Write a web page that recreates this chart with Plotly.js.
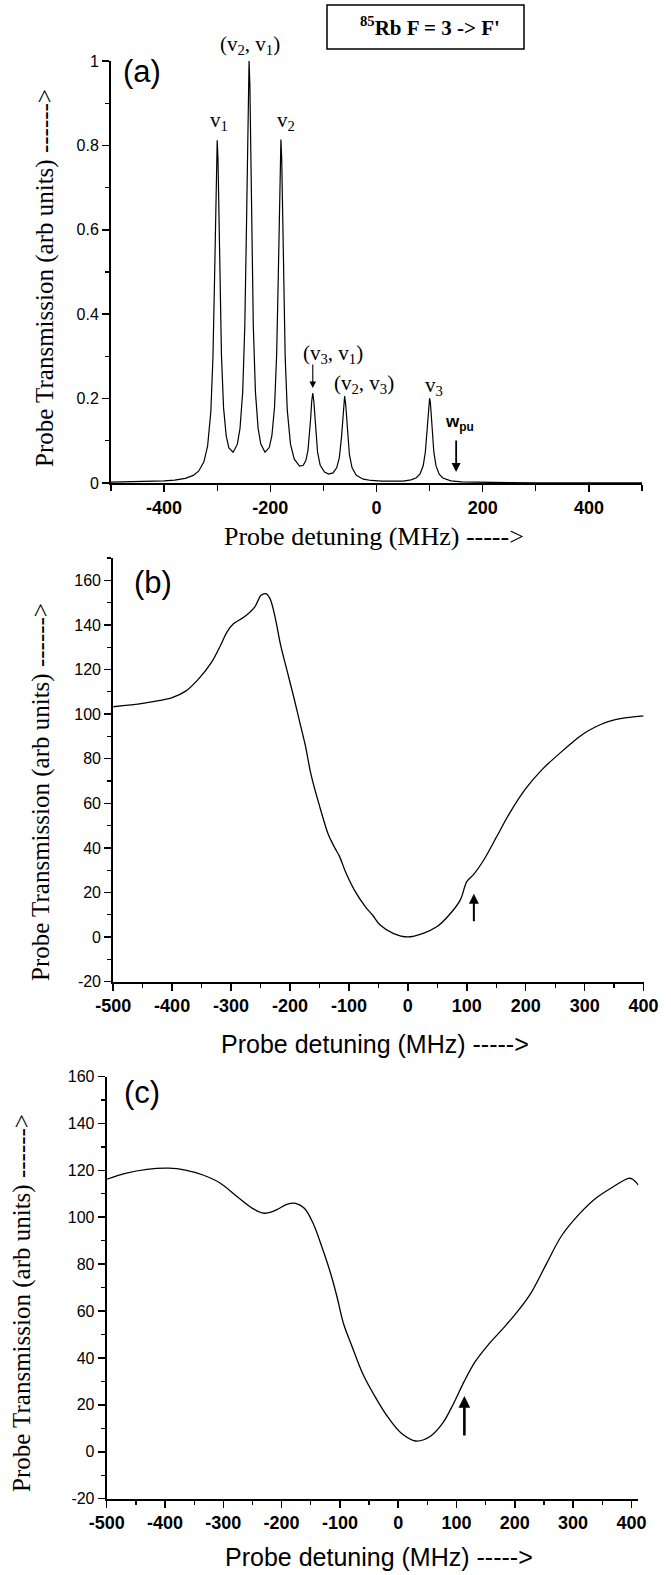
<!DOCTYPE html>
<html>
<head>
<meta charset="utf-8">
<script src="https://cdn.plot.ly/plotly-3.0.1.min.js"></script>
<style>html,body{margin:0;padding:0;background:#fff;}#chart{width:671px;height:1575px;}</style>
</head>
<body>
<div id="chart"></div>
<script>
// Panel (a): calculated probe transmission
const detuningA = [-500,-450,-420,-400,-380,-360,-345,-335,-325,-318,-312,-308,-305,-303,-301.5,-300,-298.5,-297,-295,-292,-288,-283,-278,-270,-262,-257,-252,-248,-245,-243,-241.5,-240,-238.5,-237,-235,-232,-228,-223,-218,-210,-202,-197,-192,-188,-185,-183,-181.5,-180,-178.5,-177,-175,-172,-168,-162,-155,-145,-138,-133,-129,-126,-124,-122,-120,-118,-116,-114,-111,-106,-98,-90,-82,-75,-70,-66,-64,-62,-60,-58,-56,-54,-51,-46,-38,-25,-10,10,30,50,65,75,82,88,92,95,97,98.5,100,101.5,103,105,108,112,118,125,140,160,200,250,300,400,500];
const transmissionA = [0.002,0.003,0.004,0.005,0.007,0.011,0.018,0.028,0.050,0.088,0.169,0.298,0.482,0.651,0.765,0.812,0.766,0.653,0.486,0.303,0.178,0.111,0.083,0.073,0.092,0.130,0.215,0.372,0.598,0.805,0.944,1.0,0.944,0.805,0.598,0.372,0.216,0.130,0.093,0.073,0.084,0.112,0.180,0.305,0.488,0.655,0.768,0.814,0.767,0.654,0.485,0.300,0.172,0.092,0.057,0.040,0.042,0.053,0.078,0.115,0.153,0.194,0.213,0.193,0.151,0.112,0.073,0.042,0.026,0.021,0.024,0.036,0.060,0.107,0.145,0.186,0.206,0.186,0.144,0.105,0.067,0.036,0.018,0.009,0.006,0.0045,0.0042,0.0046,0.0075,0.0125,0.0215,0.0415,0.0735,0.1195,0.1615,0.19,0.201,0.19,0.161,0.119,0.073,0.041,0.021,0.012,0.005,0.0026,0.0012,0.0007,0.0005,0.0003,0.0002];

// Panel (b)
const detuningB = [-500,-450,-425,-400,-377,-355,-333,-318,-307,-296,-278,-260,-249,-241,-234,-226,-216,-205,-194,-184,-174,-164,-149,-135,-124,-116,-105,-91,-72,-60,-47,-25,0,26,49,70,89,100,111,129,151,173,199,228,258,280,298,318,335,352,371,400];
const transmissionB = [103.3,104.8,105.9,107.4,110.3,115.8,123.3,130.8,136.8,140.5,143.5,148,153.3,154,151.8,144.3,131,119.5,108,97,86,72.5,58,46,40,36.2,28.7,21.2,13.6,9.9,5.4,1.7,0.1,1.7,4.6,9.9,16.7,24.9,27.9,34.7,45.2,55.7,66.2,75.2,82.5,87.5,91.2,94.2,96.2,97.5,98.4,99.2];

// Panel (c)
const detuningC = [-500,-468,-431,-394,-365,-335,-305,-276,-250,-230,-209,-190,-176,-161,-146,-131,-116,-105,-94,-79,-61,-38,-16,6,30,54,76,95,113,132,154,180,202,226,254,280,310,339,369,395,402,412];
const transmissionC = [116.2,118.7,120.4,120.9,120.1,118,114.5,108.7,103.8,101.7,103.1,105.6,105.9,103.8,97.4,87.4,76.1,66.1,54.8,44.8,33.4,22.8,14.2,7.8,4.6,6.4,12.1,20.6,29.9,38.4,45.5,52.6,59,67,80,92,101.2,108.1,113,116.6,116.2,113.7];

// Tick labels
const xTicksA = [-400,-200,0,200,400];
const xLabelsA = ['-400','-200','0','200','400'];
const xTicksBC = [-500,-400,-300,-200,-100,0,100,200,300,400];
const xLabelsBC = ['-500','-400','-300','-200','-100','0','100','200','300','400'];
const yTicksBC = [-20,0,20,40,60,80,100,120,140,160];
const yLabelsBC = ['-20','0','20','40','60','80','100','120','140','160'];

// Marker positions (MHz)
const pumpA = 150, arrowB = 112, arrowC = 113.5, crossV3V1 = -120;

const W = 671, H = 1575;
const px = v => v / W;
const py = v => 1 - v / H;
const SANS = 'Liberation Sans, Arial, sans-serif';
const SERIF = 'Liberation Serif, Times New Roman, serif';

function xax(dom, range, tv, tt, minor, mlen, anchor) {
  return {domain: dom, range: range, tickmode: 'array', tickvals: tv, ticktext: tt, anchor: anchor,
    showline: true, linecolor: '#000', linewidth: 2, ticks: 'outside', ticklen: 7, tickwidth: 1.5, tickcolor: '#000',
    showgrid: false, zeroline: false,
    minor: {ticks: 'outside', tickmode: 'linear', tick0: -500, dtick: minor, ticklen: mlen, tickwidth: 1.3, tickcolor: '#000', showgrid: false},
    tickfont: {family: SANS, size: 18, color: '#000', weight: 'bold'}};
}
function yax(dom, range, tv, tt, minor, anchor) {
  const o = {domain: dom, range: range, anchor: anchor,
    showline: true, linecolor: '#000', linewidth: 2, ticks: 'outside', ticklen: 7, tickwidth: 1.5, tickcolor: '#000',
    showgrid: false, zeroline: false,
    minor: {ticks: 'outside', tickmode: 'linear', tick0: 0, dtick: minor, ticklen: 4, tickwidth: 1.3, tickcolor: '#000', showgrid: false},
    tickfont: {family: SANS, size: 16, color: '#000'}};
  if (Array.isArray(tv)) { o.tickmode = 'array'; o.tickvals = tv; o.ticktext = tt; }
  else { o.dtick = tv; }
  return o;
}

const traces = [
  {x: detuningA, y: transmissionA, xaxis: 'x', yaxis: 'y', mode: 'lines', line: {color: '#000', width: 1.2}, hoverinfo: 'skip'},
  {x: detuningB, y: transmissionB, xaxis: 'x2', yaxis: 'y2', mode: 'lines', line: {color: '#000', width: 1.3, shape: 'spline', smoothing: 1}, hoverinfo: 'skip'},
  {x: detuningC, y: transmissionC, xaxis: 'x3', yaxis: 'y3', mode: 'lines', line: {color: '#000', width: 1.3, shape: 'spline', smoothing: 1}, hoverinfo: 'skip'}
];

function lab(text, x, y, font, extra) {
  return Object.assign({text: text, xref: 'paper', yref: 'paper', x: px(x), y: py(y), xanchor: 'center', yanchor: 'middle', showarrow: false, font: font}, extra || {});
}
const serif21 = {family: SERIF, size: 21, color: '#000'};
const ytitle = 'Probe Transmission (arb units) ------>';

const annotations = [
  lab(ytitle, 45, 278, {family: SERIF, size: 25, color: '#000'}, {textangle: -90}),
  lab(ytitle, 41, 792, {family: SERIF, size: 25, color: '#000'}, {textangle: -90}),
  lab(ytitle, 22, 1303, {family: SERIF, size: 25, color: '#000'}, {textangle: -90}),
  lab('Probe detuning (MHz) ----->', 374, 537, {family: SERIF, size: 26, color: '#000'}),
  lab('Probe detuning (MHz) ----->', 375, 1044, {family: SANS, size: 25, color: '#000'}),
  lab('Probe detuning (MHz) ----->', 379, 1557, {family: SANS, size: 25, color: '#000'}),
  lab('(a)', 142, 72, {family: SANS, size: 31, color: '#000'}),
  lab('(b)', 153, 582, {family: SANS, size: 31, color: '#000'}),
  lab('(c)', 142, 1092, {family: SANS, size: 31, color: '#000'}),
  lab("<b><sup>85</sup>Rb F = 3 -> F'</b>", 430, 27, {family: SERIF, size: 21, color: '#000'}),
  lab('(v<sub>2</sub>, v<sub>1</sub>)', 250, 45, serif21),
  lab('v<sub>1</sub>', 219, 121, serif21),
  lab('v<sub>2</sub>', 286, 121, serif21),
  lab('(v<sub>3</sub>, v<sub>1</sub>)', 333, 354, serif21),
  lab('(v<sub>2</sub>, v<sub>3</sub>)', 364, 384, serif21),
  lab('v<sub>3</sub>', 434, 386, serif21),
  lab('<b>w<sub>pu</sub></b>', 459, 423, {family: SANS, size: 17, color: '#000'}),
  {xref: 'x', yref: 'y', x: crossV3V1, y: 0.225, ax: 0, ay: -25, text: '', showarrow: true, arrowhead: 2, arrowsize: 1.2, arrowwidth: 1.1, arrowcolor: '#000'},
  {xref: 'x', yref: 'y', x: pumpA, y: 0.026, ax: 0, ay: -33, text: '', showarrow: true, arrowhead: 2, arrowsize: 1, arrowwidth: 1.8, arrowcolor: '#000'},
  {xref: 'x2', yref: 'y2', x: arrowB, y: 19.4, ax: 0, ay: 29, text: '', showarrow: true, arrowhead: 2, arrowsize: 1, arrowwidth: 2, arrowcolor: '#000'},
  {xref: 'x3', yref: 'y3', x: arrowC, y: 23.8, ax: 0, ay: 41, text: '', showarrow: true, arrowhead: 2, arrowsize: 0.9, arrowwidth: 2.6, arrowcolor: '#000'}
];

const layout = {
  width: W, height: H, margin: {l: 0, r: 0, t: 0, b: 0},
  paper_bgcolor: '#fff', plot_bgcolor: '#fff', showlegend: false,
  xaxis: xax([px(111), px(642)], [-500, 500], xTicksA, xLabelsA, 100, 6, 'y'),
  yaxis: yax([py(483), py(61)], [0, 1], 0.2, null, 0.1, 'x'),
  xaxis2: xax([px(113.2), px(643.6)], [-500, 400], xTicksBC, xLabelsBC, 50, 4, 'y2'),
  yaxis2: yax([py(981.7), py(558)], [-20, 170], yTicksBC, yLabelsBC, 10, 'x2'),
  xaxis3: xax([px(106.7), px(638.4)], [-500, 412], xTicksBC, xLabelsBC, 50, 4, 'y3'),
  yaxis3: yax([py(1498.7), py(1076.5)], [-20, 160], yTicksBC, yLabelsBC, 10, 'x3'),
  annotations: annotations,
  shapes: [{type: 'rect', xref: 'paper', yref: 'paper', x0: px(327), x1: px(524), y0: py(49), y1: py(5), line: {color: '#000', width: 1.5}, fillcolor: 'rgba(0,0,0,0)'}]
};

Plotly.newPlot('chart', traces, layout, {staticPlot: true, displayModeBar: false});
</script>
</body>
</html>
